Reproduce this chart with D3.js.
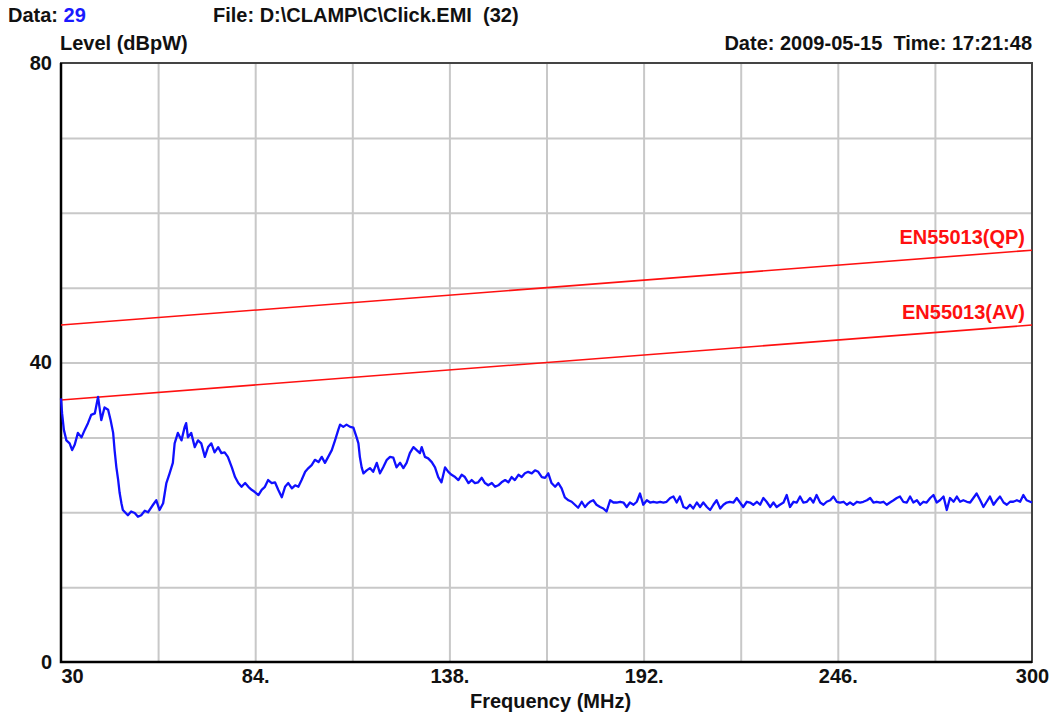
<!DOCTYPE html>
<html lang="en">
<head>
    <meta charset="UTF-8">
    <title>Click EMI, clamp 30-300 MHz</title>
<script src="https://d3js.org/d3.v7.min.js"></script>
    <style>
        body{
            margin: 0;
            background: #fff;
            font-family: "Liberation Sans", Arial, sans-serif;
        }
        text{
            font-weight: bold;
            font-size: 20px;
            fill: #111;
            white-space: pre;
        }
    </style>
</head>
<body>
<svg width="1050" height="716" id="canvas"></svg>
<script>

    // header texts
    const dataNo = "29";
    const fileName = "File: D:\\CLAMP\\C\\Click.EMI  (32)";
    const dateTime = "Date: 2009-05-15  Time: 17:21:48";
    const yLabel = "Level (dBpW)";
    const xLabel = "Frequency (MHz)";

    // axes
    const xDomain = [30, 300];
    const yDomain = [0, 80];
    const xTicks = [30, 84, 138, 192, 246, 300];
    const xGrid = [57, 84, 111, 138, 165, 192, 219, 246, 273];
    const yTicks = [0, 40, 80];
    const yGrid = [10, 20, 30, 40, 50, 60, 70];

    // limit lines (dBpW)
    const qpLimit = [[30, 45], [300, 55]];
    const avLimit = [[30, 35], [300, 45]];
    const limitNames = ["EN55013(QP)", "EN55013(AV)"];

    const sweep = [
        [30,35.2],[30.3,33.2],[30.8,31.0],[31.5,29.6],[32.4,29.2],[33.1,28.3],[33.8,29.0],[34.7,30.6],
        [35.7,30.0],[36.6,31.0],[37.5,31.9],[38.4,33.0],[39.4,33.2],[40.3,35.4],[41.2,32.3],[42.1,34.0],
        [43.1,33.7],[43.8,32.3],[44.5,30.6],[44.9,28.3],[45.4,26.0],[45.9,24.3],[46.3,22.6],[46.8,21.2],
        [47.2,20.3],[48.6,19.6],[49.5,20.1],[50.5,19.9],[51.4,19.4],[52.3,19.6],[53.3,20.2],[54.2,20.0],
        [55.6,21.0],[56.5,21.6],[57.4,20.3],[58.4,21.2],[59.3,23.9],[60.2,25.2],[61.1,26.6],[61.6,29.2],
        [62.5,30.6],[63.5,29.6],[64.4,31.4],[64.8,31.9],[65.3,30.0],[66.2,30.6],[67.2,28.7],[68.1,29.6],
        [69.0,29.2],[70.0,27.4],[70.9,28.7],[71.8,29.2],[72.7,28.0],[73.7,28.7],[74.6,27.9],[75.5,28.0],
        [76.4,27.4],[77.5,26.0],[78.4,24.7],[79.3,23.9],[80.2,23.4],[81.2,23.9],[82.1,23.4],[83.0,23.0],
        [83.9,22.7],[84.9,22.3],[85.8,23.0],[86.7,23.4],[87.6,24.3],[88.6,23.9],[89.5,24.0],[90.4,23.0],
        [91.4,22.0],[92.3,23.4],[93.2,23.9],[94.2,23.2],[95.1,23.6],[96.0,23.4],[96.9,24.3],[97.9,25.4],
        [98.8,25.9],[99.7,26.3],[100.6,27.0],[101.6,26.7],[102.5,27.4],[103.4,26.6],[104.3,27.4],[105.3,28.3],
        [106.2,29.6],[107.1,31.0],[107.6,31.7],[108.5,31.4],[109.4,31.7],[110.4,31.4],[111.3,31.3],[112.2,30.0],
        [112.7,29.2],[113.1,27.4],[113.6,26.0],[114.1,25.2],[115.0,25.6],[115.9,25.9],[116.8,25.4],[117.8,26.6],
        [118.7,25.2],[119.6,26.0],[120.6,27.0],[121.5,27.4],[122.4,27.3],[123.3,26.0],[124.3,26.6],[125.2,25.9],
        [126.1,26.6],[127.0,27.9],[128.0,28.7],[128.9,28.3],[129.8,27.9],[130.3,28.7],[131.2,27.4],[132.1,27.2],
        [133.1,26.7],[134.0,26.0],[134.9,24.7],[135.8,24.0],[136.8,26.0],[137.7,25.4],[138.6,25.0],[139.6,24.7],
        [140.5,24.3],[141.4,25.0],[142.3,24.7],[143.3,23.9],[144.2,24.3],[145.1,23.9],[146.0,24.0],[147.0,24.6],
        [147.9,23.9],[148.8,23.6],[149.8,23.9],[150.7,23.4],[151.6,23.6],[152.5,24.0],[153.5,24.3],[154.4,24.0],
        [155.3,24.7],[156.2,24.3],[157.2,25.0],[158.1,24.7],[159.0,25.2],[159.9,25.4],[160.9,25.2],[161.8,25.6],
        [162.7,25.4],[163.7,24.7],[164.6,24.6],[165.5,25.2],[166.4,23.9],[167.4,23.4],[168.3,23.9],[169.2,23.2],
        [170.1,22.0],[171.1,21.6],[172.0,21.4],[172.9,21.0],[173.8,20.6],[174.8,21.4],[175.7,20.7],[176.6,21.2],
        [177.1,21.4],[178.0,21.6],[178.9,21.0],[179.9,20.7],[180.8,20.5],[181.7,20.1],[182.7,21.6],[183.6,21.3],
        [184.5,21.3],[185.5,21.4],[186.4,21.3],[187.3,20.7],[188.2,21.3],[189.2,21.0],[190.1,21.4],[191.0,22.5],
        [191.9,21.0],[192.9,21.6],[193.8,21.3],[194.7,21.4],[195.7,21.3],[196.6,21.4],[197.5,21.3],[198.4,21.4],
        [199.4,21.9],[200.3,22.1],[201.2,21.3],[202.1,22.1],[203.1,20.7],[204.0,20.5],[204.9,21.0],[205.8,20.5],
        [206.8,21.3],[207.7,20.7],[208.6,21.3],[209.6,20.7],[210.5,20.3],[211.4,21.0],[212.3,21.6],[213.3,20.5],
        [214.2,21.0],[215.1,21.3],[216.0,21.4],[217.0,21.3],[217.9,21.9],[218.8,21.3],[219.7,20.7],[220.7,21.4],
        [221.6,21.3],[222.5,21.0],[223.5,21.4],[224.4,21.0],[225.3,21.9],[226.2,21.4],[227.2,20.7],[228.1,21.3],
        [229.0,20.7],[229.9,21.0],[230.9,21.3],[231.8,22.3],[232.7,20.7],[233.7,21.4],[234.6,21.3],[235.5,22.1],
        [236.4,21.3],[237.4,21.4],[238.3,21.9],[239.2,21.3],[240.1,22.3],[241.1,21.3],[242.0,21.0],[242.9,21.4],
        [243.9,21.6],[244.8,22.1],[245.7,21.4],[246.6,21.3],[247.6,21.4],[248.5,21.0],[249.4,21.3],[250.3,21.0],
        [251.3,21.4],[252.2,21.3],[253.1,21.4],[254.1,21.6],[255.0,21.9],[255.9,21.3],[256.8,21.4],[257.8,21.3],
        [258.7,21.4],[259.6,21.0],[260.5,21.3],[261.5,21.6],[262.4,21.9],[263.3,22.1],[264.2,21.4],[265.2,21.3],
        [266.1,22.1],[267.0,21.3],[268.0,21.6],[268.9,21.0],[269.8,21.4],[270.7,21.3],[271.7,21.9],[272.6,22.3],
        [273.5,21.3],[274.4,21.6],[275.4,22.1],[276.3,20.3],[277.2,21.9],[278.2,21.4],[279.1,22.1],[280.0,21.4],
        [280.9,21.6],[281.9,21.4],[282.8,21.3],[283.7,21.9],[284.6,22.5],[285.6,21.6],[286.5,20.7],[287.4,21.4],
        [288.3,22.1],[289.3,21.0],[290.2,21.6],[291.1,22.1],[292.1,21.3],[293.0,21.0],[293.9,21.4],[294.8,21.4],
        [295.8,21.6],[296.7,21.4],[297.6,22.3],[298.5,21.6],[299.5,21.4],[300,21.3]
    ];

    let svg = d3.select("svg");

    // plot box
    const plotLeft = 61, plotRight = 1032, plotTop = 63, plotBottom = 662;

    let xScale = d3.scaleLinear().domain(xDomain).range([plotLeft, plotRight]);
    let yScale = d3.scaleLinear().domain(yDomain).range([plotBottom, plotTop]);

    // grid
    svg.append("g")
        .attr("transform", `translate(0,${plotBottom})`)
        .call(d3.axisBottom(xScale).tickValues(xGrid).tickSize(-(plotBottom - plotTop)).tickFormat(""))
        .call(g => g.select(".domain").remove())
        .selectAll("line").attr("stroke", "#c8c8c8").attr("stroke-width", 2);
    svg.append("g")
        .attr("transform", `translate(${plotLeft},0)`)
        .call(d3.axisLeft(yScale).tickValues(yGrid).tickSize(-(plotRight - plotLeft)).tickFormat(""))
        .call(g => g.select(".domain").remove())
        .selectAll("line").attr("stroke", "#c8c8c8").attr("stroke-width", 2);

    // frame
    svg.append("rect")
        .attr("x", plotLeft).attr("y", plotTop)
        .attr("width", plotRight - plotLeft).attr("height", plotBottom - plotTop)
        .attr("fill", "none").attr("stroke", "#444").attr("stroke-width", 2);
    svg.append("path")
        .attr("d", `M${plotLeft},${plotTop}V${plotBottom}H${plotRight}`)
        .attr("fill", "none").attr("stroke", "#000").attr("stroke-width", 2.5);

    // limits
    let line = d3.line().x(d => xScale(d[0])).y(d => yScale(d[1]));
    [qpLimit, avLimit].forEach(function (lim, i) {
        svg.append("path")
            .attr("d", line(lim))
            .attr("fill", "none")
            .attr("stroke", "#ff1010")
            .attr("stroke-width", 1.6);
        svg.append("text")
            .attr("x", xScale(xDomain[1]) - 7)
            .attr("y", yScale(lim[1][1]) - 6)
            .attr("text-anchor", "end")
            .style("fill", "#ff1010")
            .text(limitNames[i]);
    });

    // sweep
    svg.append("path")
        .attr("d", line(sweep))
        .attr("fill", "none")
        .attr("stroke", "#1010ff")
        .attr("stroke-width", 2.3)
        .attr("stroke-linejoin", "round");

    // tick labels
    svg.append("g")
        .attr("transform", `translate(0,${plotBottom})`)
        .call(d3.axisBottom(xScale).tickValues(xTicks).tickSize(0).tickPadding(7)
            .tickFormat(d => (d === xDomain[0] || d === xDomain[1]) ? String(d) : d + "."))
        .call(g => g.select(".domain").remove())
        .selectAll("text")
        .attr("font-size", null).attr("font-family", null)
        .attr("text-anchor", d => d === xDomain[0] ? "start" : "middle")
        .attr("dx", d => d === xDomain[0] ? 0 : 0);
    svg.append("g")
        .attr("transform", `translate(${plotLeft},0)`)
        .call(d3.axisLeft(yScale).tickValues(yTicks).tickSize(0).tickPadding(9))
        .call(g => g.select(".domain").remove())
        .selectAll("text").attr("font-size", null).attr("font-family", null);
    svg.selectAll(".tick text").style("fill", "#111");

    // titles
    let head = svg.append("text").attr("x", 8).attr("y", 22);
    head.append("tspan").text("Data: ");
    head.append("tspan").style("fill", "#1a1aff").text(dataNo);
    svg.append("text").attr("x", 213).attr("y", 22).text(fileName);
    svg.append("text").attr("x", 60).attr("y", 50).text(yLabel);
    svg.append("text").attr("x", 1032).attr("y", 50).attr("text-anchor", "end").text(dateTime);
    svg.append("text").attr("x", (plotLeft + plotRight) / 2 + 4).attr("y", 708).attr("text-anchor", "middle").text(xLabel);

</script>
</body>
</html>
